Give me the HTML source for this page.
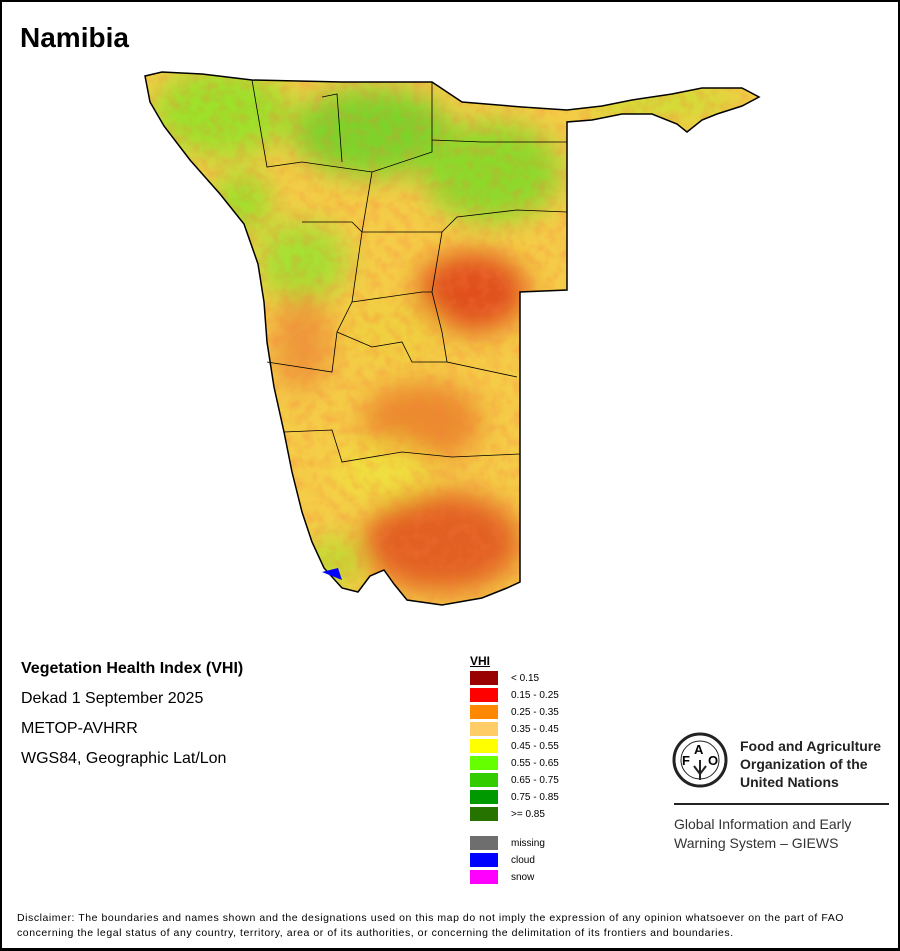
<!DOCTYPE html>
<html><head><meta charset="utf-8"><style>
body{margin:0;background:#fff;}
#p{position:relative;width:896px;height:946px;border:2px solid #000;border-right-width:3px;border-bottom-width:3px;background:#fff;font-family:"Liberation Sans",sans-serif;overflow:hidden}
.t{position:absolute;white-space:nowrap;color:#000}
.sw{position:absolute;left:468px;width:28px;height:14px}
.lb{position:absolute;left:509px;font-size:10px}
</style></head><body><div id="p">
<div class="t" style="left:18px;top:20px;font-size:28px;font-weight:bold">Namibia</div>
<svg style="position:absolute;left:0;top:0" width="896" height="946">
<defs>
<clipPath id="c"><path id="ns" d="M143,74 L160,70 L200,72 L250,78 L340,80 L430,80 L460,100 L520,105 L565,108 L600,104 L630,98 L670,92 L700,86 L740,86 L757,95 L740,104 L715,112 L700,118 L685,130 L675,122 L650,112 L620,112 L590,118 L565,120 L565,288 L518,290 L518,580 L505,586 L480,596 L440,603 L405,598 L392,582 L382,568 L368,574 L356,590 L340,586 L322,566 L310,540 L300,510 L290,470 L282,430 L272,385 L265,340 L262,300 L256,262 L242,222 L218,192 L188,158 L162,124 L148,100 Z"/></clipPath>
<filter id="b"><feGaussianBlur stdDeviation="14"/></filter>
<filter id="n"><feTurbulence type="fractalNoise" baseFrequency="0.09" numOctaves="2" seed="3"/><feColorMatrix values="0 0 0 0 0.95  0 0 0 0 0.2  0 0 0 0 0.05  0 0 0 -2 1.2"/></filter>
</defs>
<g clip-path="url(#c)">
<rect x="130" y="60" width="640" height="560" fill="#f5cc48"/>
<g filter="url(#b)">
<ellipse cx="220" cy="110" rx="70" ry="45" fill="#9ee02a"/>
<ellipse cx="370" cy="130" rx="80" ry="45" fill="#7fd22a"/>
<ellipse cx="490" cy="170" rx="70" ry="50" fill="#8ed82c"/>
<ellipse cx="300" cy="260" rx="45" ry="40" fill="#a6e030"/>
<ellipse cx="240" cy="200" rx="30" ry="30" fill="#9ee02a"/>
<ellipse cx="470" cy="290" rx="55" ry="40" fill="#e0501a"/>
<ellipse cx="440" cy="540" rx="80" ry="50" fill="#e26020"/>
<ellipse cx="420" cy="420" rx="60" ry="40" fill="#eb8a2e"/>
<ellipse cx="300" cy="340" rx="30" ry="50" fill="#ee9a3a"/>
<ellipse cx="380" cy="470" rx="50" ry="30" fill="#f0e040"/>
<ellipse cx="660" cy="100" rx="80" ry="15" fill="#c8e030"/>
<ellipse cx="330" cy="560" rx="30" ry="25" fill="#c0dc30"/>
<ellipse cx="390" cy="330" rx="50" ry="30" fill="#f0d040"/>
</g>
<rect x="130" y="60" width="640" height="560" filter="url(#n)" opacity="0.3"/>
</g>
<use href="#ns" fill="none" stroke="#000" stroke-width="1.5"/>
<g fill="none" stroke="#000" stroke-width="0.8">
<path d="M250,78 L265,165 L300,160 L370,170 L430,150 L430,80"/>
<path d="M430,138 L480,140 L565,140"/>
<path d="M370,170 L360,230 L350,300 L335,330 L330,370 L265,360"/>
<path d="M300,220 L350,220 L360,230 L440,230 L455,215 L515,208 L565,210"/>
<path d="M440,230 L430,290 L440,330 L445,360 L515,375"/>
<path d="M350,300 L420,290 L430,290"/>
<path d="M335,330 L370,345 L400,340 L410,360 L445,360"/>
<path d="M282,430 L330,428 L340,460 L400,450 L450,455 L518,452"/>
<path d="M320,95 L335,92 L340,160"/>
</g>
<path d="M320,570 L340,578 L336,566Z" fill="#0000ff"/>
</svg>
<div class="t" style="left:19px;top:658px;font-size:16px;font-weight:bold">Vegetation Health Index (VHI)</div>
<div class="t" style="left:19px;top:688px;font-size:16px">Dekad 1 September 2025</div>
<div class="t" style="left:19px;top:718px;font-size:16px">METOP-AVHRR</div>
<div class="t" style="left:19px;top:748px;font-size:16px">WGS84, Geographic Lat/Lon</div>
<div class="t" style="left:468px;top:652px;font-size:12px;font-weight:bold;text-decoration:underline">VHI</div>
<div class="sw" style="top:669px;background:#990000"></div><div class="lb" style="top:671px">&lt; 0.15</div>
<div class="sw" style="top:686px;background:#ff0000"></div><div class="lb" style="top:688px">0.15 - 0.25</div>
<div class="sw" style="top:703px;background:#ff8800"></div><div class="lb" style="top:705px">0.25 - 0.35</div>
<div class="sw" style="top:720px;background:#ffcc66"></div><div class="lb" style="top:722px">0.35 - 0.45</div>
<div class="sw" style="top:737px;background:#ffff00"></div><div class="lb" style="top:739px">0.45 - 0.55</div>
<div class="sw" style="top:754px;background:#66ff00"></div><div class="lb" style="top:756px">0.55 - 0.65</div>
<div class="sw" style="top:771px;background:#33cc00"></div><div class="lb" style="top:773px">0.65 - 0.75</div>
<div class="sw" style="top:788px;background:#009900"></div><div class="lb" style="top:790px">0.75 - 0.85</div>
<div class="sw" style="top:805px;background:#267300"></div><div class="lb" style="top:807px">&gt;= 0.85</div>
<div class="sw" style="top:834px;background:#6e6e6e"></div><div class="lb" style="top:836px">missing</div>
<div class="sw" style="top:851px;background:#0000ff"></div><div class="lb" style="top:853px">cloud</div>
<div class="sw" style="top:868px;background:#ff00ff"></div><div class="lb" style="top:870px">snow</div>
<svg style="position:absolute;left:670px;top:730px" width="60" height="60"><circle cx="28" cy="28" r="26" fill="none" stroke="#222" stroke-width="3"/><circle cx="28" cy="28" r="19" fill="none" stroke="#222" stroke-width="1"/><text x="10" y="33" font-size="13" font-weight="bold" font-family="Liberation Sans">F</text><text x="22" y="22" font-size="13" font-weight="bold" font-family="Liberation Sans">A</text><text x="36" y="33" font-size="13" font-weight="bold" font-family="Liberation Sans">O</text><path d="M28,28 L28,48 M22,34 L28,42 L34,34" stroke="#222" stroke-width="2" fill="none"/></svg>
<div class="t" style="left:738px;top:735px;font-size:14px;font-weight:bold;line-height:18px;color:#222">Food and Agriculture<br>Organization of the<br>United Nations</div>
<div style="position:absolute;left:672px;top:801px;width:215px;height:2px;background:#222"></div>
<div class="t" style="left:672px;top:813px;font-size:14px;line-height:19px;color:#333">Global Information and Early<br>Warning System – GIEWS</div>
<div class="t" style="left:15px;top:909px;font-size:10.5px;line-height:15px;letter-spacing:0.55px">Disclaimer: The boundaries and names shown and the designations used on this map do not imply the expression of any opinion whatsoever on the part of FAO<br>concerning the legal status of any country, territory, area or of its authorities, or concerning the delimitation of its frontiers and boundaries.</div>
</div></body></html>
